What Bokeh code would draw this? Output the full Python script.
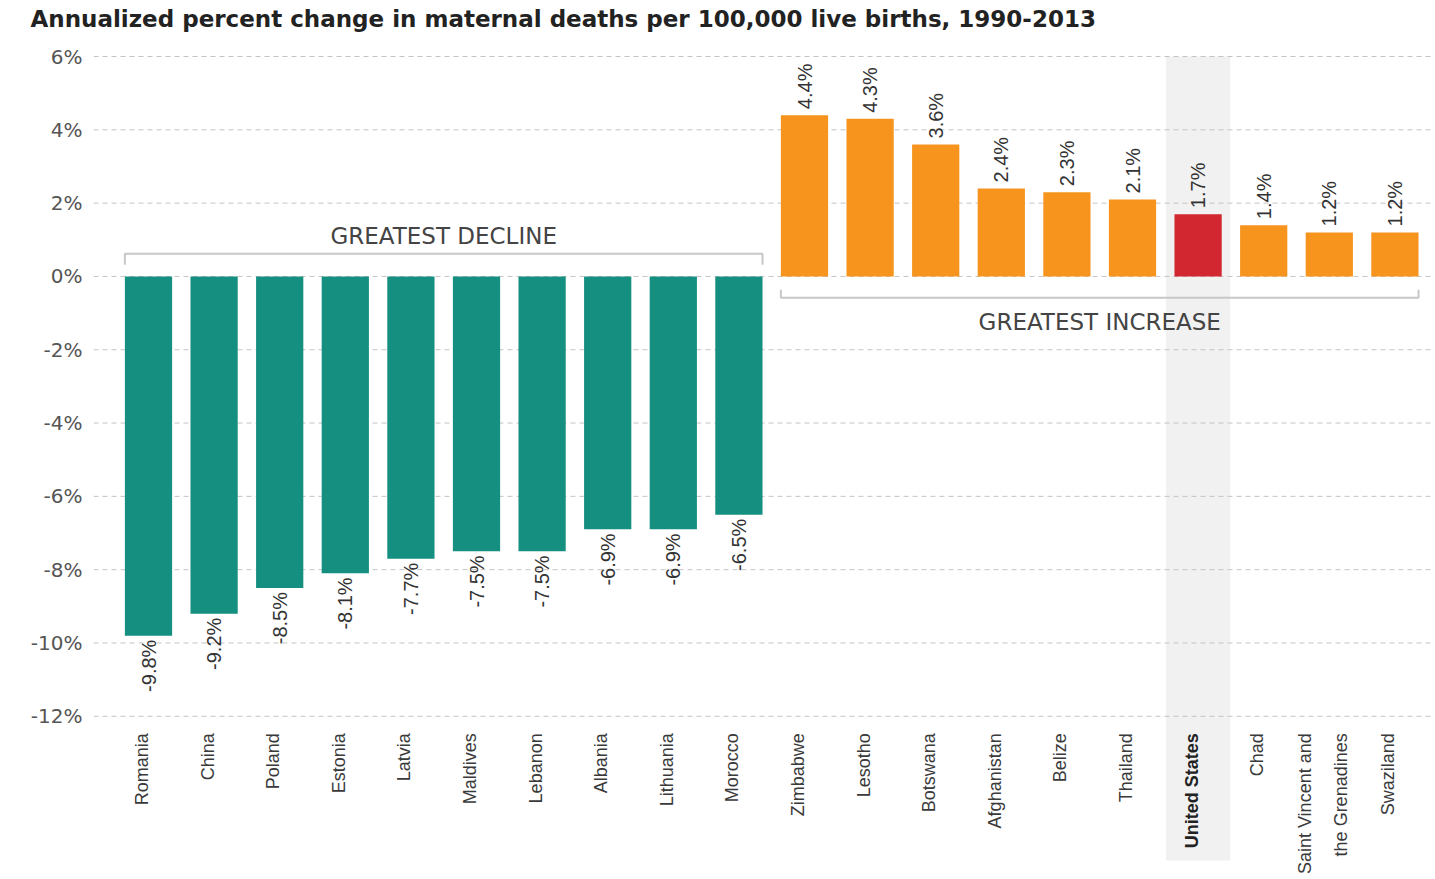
import math
from bokeh.plotting import figure
from bokeh.models import ColumnDataSource, FixedTicker, Range1d
from bokeh.core.properties import value
from bokeh.embed import file_html
from bokeh.resources import INLINE

# ---------------- data ----------------
countries = ["Romania", "China", "Poland", "Estonia", "Latvia", "Maldives", "Lebanon",
             "Albania", "Lithuania", "Morocco",
             "Zimbabwe", "Lesotho", "Botswana", "Afghanistan", "Belize", "Thailand",
             "United States", "Chad", "Saint Vincent and\nthe Grenadines", "Swaziland"]
change = [-9.8, -9.2, -8.5, -8.1, -7.7, -7.5, -7.5, -6.9, -6.9, -6.5,
          4.4, 4.3, 3.6, 2.4, 2.3, 2.1, 1.7, 1.4, 1.2, 1.2]
y_ticks = [-12, -10, -8, -6, -4, -2, 0, 2, 4, 6]
y_tick_labels = ["-12%", "-10%", "-8%", "-6%", "-4%", "-2%", "0%", "2%", "4%", "6%"]
group_labels = ["GREATEST DECLINE", "GREATEST INCREASE"]
highlight = "United States"
title_text = "Annualized percent change in maternal deaths per 100,000 live births, 1990-2013"

# ---------------- styling ----------------
TEAL = "#148f80"
ORANGE = "#f7941e"
RED = "#d22630"
BAND = "#f1f1f1"
GRID = "#c4c4c4"
NARROW = value("Liberation Sans")

W, H = 1432, 875
LEFT = 93
TITLE_H = 35                     # estimated height of title panel
ppu = 36.61                      # pixels per percentage point
y_top = 6 + (57 - TITLE_H) / ppu
y_bot = y_top - (H - TITLE_H) / ppu
pitch = 65.6
x_start = (93 - 148) / pitch
x_end = x_start + (W - LEFT) / pitch

n = len(countries)
xs = list(range(n))
colors = [RED if c == highlight else (TEAL if v < 0 else ORANGE) for c, v in zip(countries, change)]

p = figure(width=W, height=H, output_backend="svg", toolbar_location=None,
           x_range=Range1d(x_start, x_end), y_range=Range1d(y_bot, y_top),
           x_axis_location=None, min_border_left=LEFT, min_border_right=0,
           min_border_top=0, min_border_bottom=0, outline_line_color=None,
           background_fill_color="white", border_fill_color="white")
p.xgrid.visible = False
p.ygrid.visible = False

# title
p.title.text = title_text
p.title.align = "left"
p.title.offset = 30 - LEFT
p.title.text_font = "DejaVu Sans"
p.title.text_font_style = "bold"
p.title.text_font_size = "23px"
p.title.text_color = "#222222"
p.title.standoff = 6

# highlight band behind United States
hi = countries.index(highlight)
p.quad(left=hi - 0.49, right=hi + 0.49, top=max(y_ticks), bottom=min(y_ticks) - 144 / ppu,
       fill_color=BAND, line_color=None)

# dashed gridlines
p.segment(x0=[x_start] * len(y_ticks), x1=[x_end] * len(y_ticks), y0=y_ticks, y1=y_ticks,
          line_color=GRID, line_width=1, line_dash="5 4")

# bars
src = ColumnDataSource(dict(x=xs, top=change, color=colors))
p.vbar(x="x", top="top", bottom=0, width=0.72, fill_color="color", line_color=None, source=src)

# value labels
pos = [(x, v) for x, v in zip(xs, change) if v >= 0]
neg = [(x, v) for x, v in zip(xs, change) if v < 0]
p.text(x=[a for a, _ in pos], y=[v + 6 / ppu for _, v in pos],
       text=[f"{v:.1f}%" for _, v in pos], angle=math.pi / 2,
       text_align="left", text_baseline="middle", text_font=NARROW,
       text_font_size="20px", text_color="#333333")
p.text(x=[a for a, _ in neg], y=[v - 4 / ppu for _, v in neg],
       text=[f"{v:.1f}%" for _, v in neg], angle=math.pi / 2,
       text_align="right", text_baseline="middle", text_font=NARROW,
       text_font_size="20px", text_color="#333333")

# country labels
lab_src = ColumnDataSource(dict(
    x=[x - 0.1 for x in xs], y=[min(y_ticks) - 17 / ppu] * n, text=countries,
    style=["bold" if c == highlight else "normal" for c in countries],
    color=["#222222" if c == highlight else "#3a3a3a" for c in countries]))
p.text(x="x", y="y", text="text", source=lab_src, angle=math.pi / 2,
       text_align="right", text_baseline="middle", text_font=NARROW,
       text_font_size="18px", text_font_style="style", text_color="color",
       text_line_height=1.8)

# brackets
dec = [i for i, v in enumerate(change) if v < 0]
inc = [i for i, v in enumerate(change) if v >= 0]
hw = 0.36
d0, d1 = min(dec) - hw, max(dec) + hw
i0, i1 = min(inc) - hw, max(inc) + hw
yb_d, yt_d = 0.32, 0.62
yb_i, yt_i = -0.36, -0.58
p.line([d0, d0, d1, d1], [yb_d, yt_d, yt_d, yb_d], line_color="#c8c8c8", line_width=2)
p.line([i0, i0, i1, i1], [yb_i, yt_i, yt_i, yb_i], line_color="#c8c8c8", line_width=2)
p.text(x=[(d0 + d1) / 2, (i0 + i1) / 2], y=[1.11, -1.24], text=group_labels,
       text_align="center", text_baseline="middle", text_font=value("DejaVu Sans"),
       text_font_size="23px", text_color="#444444")

# y axis
p.yaxis.ticker = FixedTicker(ticks=y_ticks)
p.yaxis.major_label_overrides = {t: l for t, l in zip(y_ticks, y_tick_labels)}
p.yaxis.axis_line_color = None
p.yaxis.major_tick_line_color = None
p.yaxis.minor_tick_line_color = None
p.yaxis.major_tick_out = 0
p.yaxis.major_tick_in = 0
p.yaxis.major_label_standoff = 11
p.yaxis.major_label_text_font = "DejaVu Sans"
p.yaxis.major_label_text_font_size = "20px"
p.yaxis.major_label_text_color = "#555555"

open("out.html", "w").write(file_html(p, INLINE))
